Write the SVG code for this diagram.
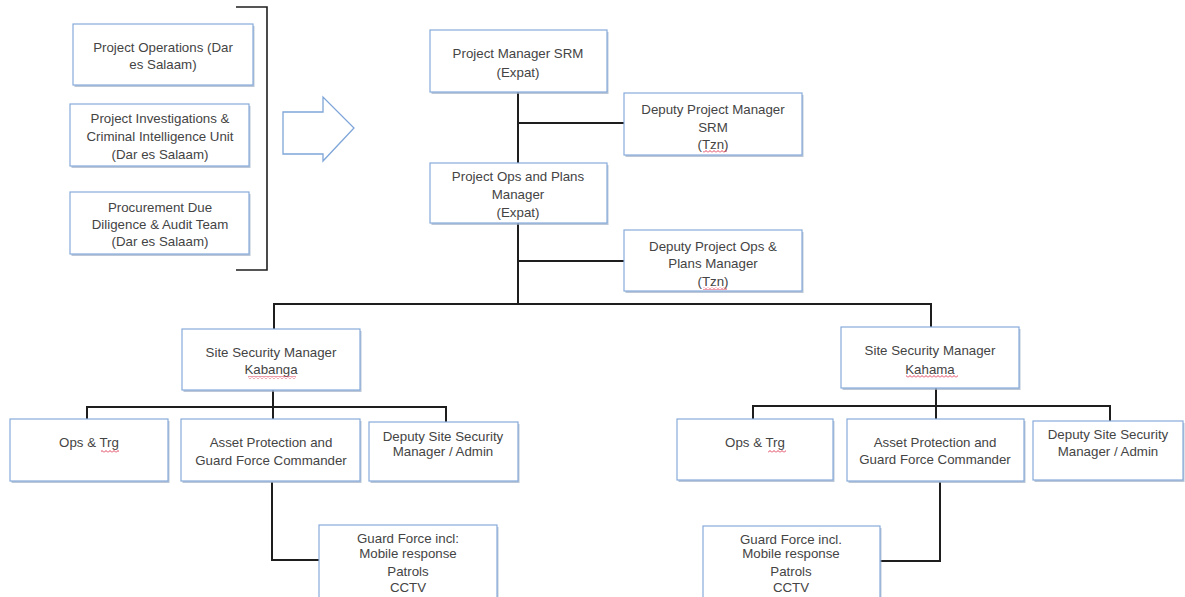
<svg xmlns="http://www.w3.org/2000/svg" width="1185" height="597" viewBox="0 0 1185 597">
  <style>
    .bx { fill: #ffffff; stroke: #86abdb; stroke-width: 1.2; }
    .sh { fill: #9fb0c8; opacity: 0.7; }
    .t { font-family: "Liberation Sans", Arial, sans-serif; font-size: 13.3px; fill: #444444; text-anchor: middle; }
    .ln { fill: none; stroke: #1e1e1e; stroke-width: 2; }
    .br { fill: none; stroke: #1e1e1e; stroke-width: 1.6; }
    .arrow { fill: #ffffff; stroke: #7fa6d8; stroke-width: 1.3; }
    .sq { fill: url(#wave); }
  </style>
  <defs>
    <!-- red wavy underline tile -->
    <pattern id="wave" x="0" y="0" width="4" height="3" patternUnits="userSpaceOnUse">
      <path d="M0,2.5 L2,0.5 L4,2.5" fill="none" stroke="#e0405a" stroke-width="1"/>
    </pattern>
  </defs>

  <rect width="1185" height="597" fill="#ffffff"/>

  <!-- bracket grouping the Dar es Salaam units -->
  <path class="br" d="M236,7 H267 V270 H236"/>

  <!-- block arrow -->
  <path class="arrow" d="M283,112 H323 V97 L354,128 L323,161 V154 H283 Z"/>

  <!-- connectors -->
  <g id="connectors">
    <path class="ln" d="M518,92 V163"/>
    <path class="ln" d="M518,123 H624"/>
    <path class="ln" d="M518,223 V304"/>
    <path class="ln" d="M518,261 H624"/>
    <path class="ln" d="M274,329 V304 H931 V327"/>
    <!-- Kabanga branch -->
    <path class="ln" d="M273,390 V419"/>
    <path class="ln" d="M87,419 V407 H446 V422"/>
    <path class="ln" d="M272,482 V560 H319"/>
    <!-- Kahama branch -->
    <path class="ln" d="M936,388 V419"/>
    <path class="ln" d="M753,419 V406 H1110 V421"/>
    <path class="ln" d="M940,482 V561 H880"/>
  </g>

  <!-- Dar es Salaam units -->
  <g id="proj-ops">
    <rect class="sh" x="74.5" y="26" width="180" height="61"/>
    <rect class="bx" x="73" y="24" width="180" height="61"/>
    <text class="t" x="163" y="52">Project Operations (Dar</text>
    <text class="t" x="163" y="69">es Salaam)</text>
  </g>
  <g id="proj-investigations">
    <rect class="sh" x="71.5" y="106" width="179" height="62"/>
    <rect class="bx" x="70" y="104" width="179" height="62"/>
    <text class="t" x="160" y="123">Project Investigations &amp;</text>
    <text class="t" x="160" y="141">Criminal Intelligence Unit</text>
    <text class="t" x="160" y="159">(Dar es Salaam)</text>
  </g>
  <g id="procurement">
    <rect class="sh" x="71.5" y="194" width="179" height="62"/>
    <rect class="bx" x="70" y="192" width="179" height="62"/>
    <text class="t" x="160" y="212">Procurement Due</text>
    <text class="t" x="160" y="229">Diligence &amp; Audit Team</text>
    <text class="t" x="160" y="246">(Dar es Salaam)</text>
  </g>

  <!-- project management -->
  <g id="pm-srm">
    <rect class="sh" x="431.5" y="32" width="177" height="62"/>
    <rect class="bx" x="430" y="30" width="177" height="62"/>
    <text class="t" x="518" y="58">Project Manager SRM</text>
    <text class="t" x="518" y="77">(Expat)</text>
  </g>
  <g id="deputy-pm-srm">
    <rect class="sh" x="625.5" y="95" width="178" height="62"/>
    <rect class="bx" x="624" y="93" width="178" height="62"/>
    <text class="t" x="713" y="114">Deputy Project Manager</text>
    <text class="t" x="713" y="132">SRM</text>
    <text class="t" x="713" y="149">(Tzn)</text>
    <rect class="sq" x="703" y="150" width="24" height="3"/>
  </g>
  <g id="ops-plans">
    <rect class="sh" x="431.5" y="165" width="177" height="60"/>
    <rect class="bx" x="430" y="163" width="177" height="60"/>
    <text class="t" x="518" y="181">Project Ops and Plans</text>
    <text class="t" x="518" y="199">Manager</text>
    <text class="t" x="518" y="217">(Expat)</text>
  </g>
  <g id="deputy-ops-plans">
    <rect class="sh" x="625.5" y="232" width="178" height="61"/>
    <rect class="bx" x="624" y="230" width="178" height="61"/>
    <text class="t" x="713" y="251">Deputy Project Ops &amp;</text>
    <text class="t" x="713" y="268">Plans Manager</text>
    <text class="t" x="713" y="286">(Tzn)</text>
    <rect class="sq" x="703" y="287" width="24" height="3"/>
  </g>

  <!-- Kabanga site -->
  <g id="ssm-kabanga">
    <rect class="sh" x="183.5" y="331" width="178" height="61"/>
    <rect class="bx" x="182" y="329" width="178" height="61"/>
    <text class="t" x="271" y="357">Site Security Manager</text>
    <text class="t" x="271" y="374">Kabanga</text>
    <rect class="sq" x="248" y="376" width="48" height="3"/>
  </g>
  <g id="ops-trg-kabanga">
    <rect class="sh" x="11.5" y="421" width="158" height="62"/>
    <rect class="bx" x="10" y="419" width="158" height="62"/>
    <text class="t" x="89" y="447">Ops &amp; Trg</text>
    <rect class="sq" x="101" y="450" width="18" height="3"/>
  </g>
  <g id="asset-kabanga">
    <rect class="sh" x="182.5" y="421" width="179" height="62"/>
    <rect class="bx" x="181" y="419" width="179" height="62"/>
    <text class="t" x="271" y="447">Asset Protection and</text>
    <text class="t" x="271" y="465">Guard Force Commander</text>
  </g>
  <g id="deputy-ssm-kabanga">
    <rect class="sh" x="370.5" y="424" width="149" height="59"/>
    <rect class="bx" x="369" y="422" width="149" height="59"/>
    <text class="t" x="443" y="441">Deputy Site Security</text>
    <text class="t" x="443" y="456">Manager / Admin</text>
  </g>
  <g id="guard-kabanga">
    <rect class="sh" x="320.5" y="527" width="178" height="90"/>
    <rect class="bx" x="319" y="525" width="178" height="90"/>
    <text class="t" x="408" y="543">Guard Force incl:</text>
    <text class="t" x="408" y="558">Mobile response</text>
    <text class="t" x="408" y="576">Patrols</text>
    <text class="t" x="408" y="592">CCTV</text>
  </g>

  <!-- Kahama site -->
  <g id="ssm-kahama">
    <rect class="sh" x="842.5" y="329" width="178" height="61"/>
    <rect class="bx" x="841" y="327" width="178" height="61"/>
    <text class="t" x="930" y="355">Site Security Manager</text>
    <text class="t" x="930" y="374">Kahama</text>
    <rect class="sq" x="906" y="375" width="52" height="3"/>
  </g>
  <g id="ops-trg-kahama">
    <rect class="sh" x="678.5" y="421" width="156" height="61"/>
    <rect class="bx" x="677" y="419" width="156" height="61"/>
    <text class="t" x="755" y="447">Ops &amp; Trg</text>
    <rect class="sq" x="768" y="450" width="18" height="3"/>
  </g>
  <g id="asset-kahama">
    <rect class="sh" x="848.5" y="421" width="177" height="62"/>
    <rect class="bx" x="847" y="419" width="177" height="62"/>
    <text class="t" x="935" y="447">Asset Protection and</text>
    <text class="t" x="935" y="464">Guard Force Commander</text>
  </g>
  <g id="deputy-ssm-kahama">
    <rect class="sh" x="1034.5" y="423" width="150" height="59"/>
    <rect class="bx" x="1033" y="421" width="150" height="59"/>
    <text class="t" x="1108" y="439">Deputy Site Security</text>
    <text class="t" x="1108" y="456">Manager / Admin</text>
  </g>
  <g id="guard-kahama">
    <rect class="sh" x="704.5" y="528" width="177" height="90"/>
    <rect class="bx" x="703" y="526" width="177" height="90"/>
    <text class="t" x="791" y="544">Guard Force incl.</text>
    <text class="t" x="791" y="558">Mobile response</text>
    <text class="t" x="791" y="576">Patrols</text>
    <text class="t" x="791" y="592">CCTV</text>
  </g>
</svg>
